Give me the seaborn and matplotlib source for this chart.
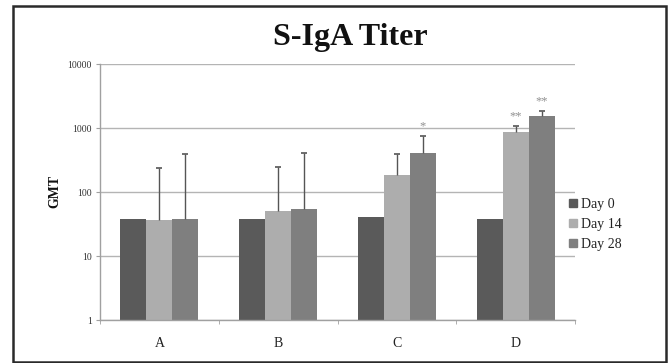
import matplotlib
matplotlib.use("Agg")
import matplotlib.pyplot as plt
import seaborn as sns
import pandas as pd
import numpy as np
from matplotlib.lines import Line2D
from matplotlib.patches import Rectangle
from matplotlib.ticker import FixedLocator, FixedFormatter, NullLocator

# ---- data ----
groups = ["A", "B", "C", "D"]
days = ["Day 0", "Day 14", "Day 28"]
day0 = [38.3, 37.4, 40.2, 38.3]
day14 = [36.9, 50.5, 186, 873]
day28 = [38.3, 54, 405, 1540]
day14_upper = [235, 250, 388, 1090]
day28_upper = [388, 400, 757, 1860]
day14_sig = ["", "", "", "**"]
day28_sig = ["", "", "*", "**"]
ytick_values = [1, 10, 100, 1000, 10000]
ytick_labels = ["1", "10", "100", "1000", "10000"]
colors = ["#5a5a5a", "#adadad", "#7f7f7f"]

sns.set_style("white")
plt.rcParams["font.family"] = ["Liberation Serif", "DejaVu Serif"]

df = pd.DataFrame({
    "group": groups * 3,
    "day": [days[0]] * 4 + [days[1]] * 4 + [days[2]] * 4,
    "gmt": day0 + day14 + day28,
})

fig = plt.figure(figsize=(6.72, 3.63), dpi=100)
ax = fig.add_axes([100 / 672, 1 - 320 / 363, 475 / 672, 256 / 363])

sns.barplot(data=df, x="group", y="gmt", hue="day", palette=colors,
            width=0.655, errorbar=None, saturation=1, legend=False, ax=ax,
            linewidth=0)
ax.set_yscale("log")
ax.set_ylim(1, 10000)
ax.set_xlim(-0.5, len(groups) - 0.5)

# error bars (upward only) and significance stars
bar_containers = list(ax.containers)
uppers = [None, day14_upper, day28_upper]
sigs = [None, day14_sig, day28_sig]
for ci, cont in enumerate(bar_containers):
    if uppers[ci] is None:
        continue
    xs = [b.get_x() + b.get_width() / 2 for b in cont]
    tops = [b.get_height() for b in cont]
    ax.vlines(xs, tops, uppers[ci], colors="#555555", linewidth=1, zorder=3)
    ax.plot(xs, uppers[ci], linestyle="", marker="_", markersize=5,
            markeredgewidth=1.2, color="#555555", zorder=3)
    for x, u, s in zip(xs, uppers[ci], sigs[ci]):
        if s:
            ax.annotate(s, (x, u), xytext=(0, 2.2), textcoords="offset points",
                        ha="center", va="bottom", fontsize=9, color="#909090")

# axes styling
ax.yaxis.set_major_locator(FixedLocator(ytick_values))
ax.yaxis.set_major_formatter(FixedFormatter(ytick_labels))
ax.yaxis.set_minor_locator(NullLocator())
ax.yaxis.grid(True, color="#b4b4b4", linewidth=1)
ax.xaxis.grid(False)
ax.set_axisbelow(True)
for side in ["top", "right"]:
    ax.spines[side].set_visible(False)
for side in ["left", "bottom"]:
    ax.spines[side].set_color("#a0a0a0")
    ax.spines[side].set_linewidth(1)
ax.tick_params(axis="y", which="major", length=3, color="#a0a0a0",
               labelsize=7, pad=3, left=True, labelcolor="#333333")
ax.xaxis.set_minor_locator(FixedLocator([-0.5, 0.5, 1.5, 2.5, 3.5]))
ax.tick_params(axis="x", which="minor", length=3, color="#a0a0a0",
               bottom=True)
ax.tick_params(axis="x", which="major", length=0, labelsize=10, pad=12,
               labelcolor="#222222")
ax.set_xlabel("")
ax.set_ylabel("")

# legend
handles = [Line2D([], [], marker="s", linestyle="", color=c, markersize=6)
           for c in colors]
leg = ax.legend(handles, days, loc="upper left",
                bbox_to_anchor=(566 / 672, 1 - 195 / 363),
                bbox_transform=fig.transFigure, borderaxespad=0,
                borderpad=0.2, handlelength=0.6, handletextpad=0.3,
                labelspacing=0.5, fontsize=10, frameon=True)
leg.get_frame().set_facecolor("white")
leg.get_frame().set_edgecolor("none")
leg.get_frame().set_alpha(1)
for t in leg.get_texts():
    t.set_color("#222222")

# title and y-label
fig.text(350 / 672, 1 - 45.5 / 363, "S-IgA Titer", ha="center",
         va="baseline", fontsize=23, fontweight="bold", color="#111111")
fig.text(55 / 672, 1 - 191.7 / 363, "GMT", ha="center", va="center",
         rotation=90, fontsize=10, fontweight="bold", color="#111111")

# outer border
fig.patches.append(Rectangle((13 / 672, 1 / 363), (666 - 13) / 672,
                             (362 - 6) / 363, transform=fig.transFigure,
                             fill=False, edgecolor="#2a2a2a", linewidth=1.8))

fig.savefig("out.png", dpi=100, facecolor="white")
